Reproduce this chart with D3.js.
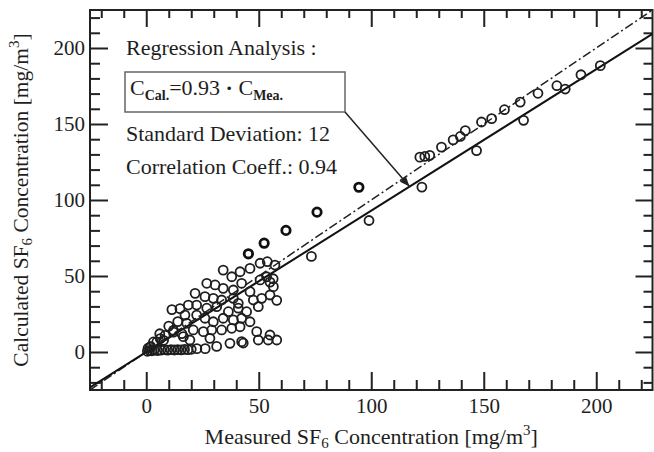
<!DOCTYPE html>
<html>
<head>
<meta charset="utf-8">
<script src="https://cdn.jsdelivr.net/npm/d3@7"></script>
<style>
  body { margin: 0; background: #fff; }
  text { font-family: "Liberation Serif", "DejaVu Serif", serif; fill: #1e1e1e; }
</style>
</head>
<body>
<div id="canvas"></div>
<script>
const width = 654;
const height = 452;

// axis ticks
const majorTicks = [0, 50, 100, 150, 200];
const minorTicks = [-20, -10, 10, 20, 30, 40, 60, 70, 80, 90, 110, 120, 130, 140, 160, 170, 180, 190, 210, 220];

// regression / reference lines
const lineX = [-25, 225];
const slopeRegression = 0.93;
const slopeIdentity = 1.0;

// measured vs calculated, bold circles (outliers)
const boldPoints = [
    [45.4, 64.6], [52.4, 71.6], [62.1, 80], [75.9, 92], [94.5, 108.4]
];

// measured vs calculated, normal circles
const points = [
    // upper branch
    [99, 86.5], [73.4, 62.9], [122.5, 108.5], [146.8, 132.5], [167.7, 152.4], [186.2, 173],
    [121.6, 128.2], [123.8, 128.7], [126, 129.4], [131.2, 134.8], [136.4, 139.6], [139.6, 141.8],
    [141.8, 145.7], [149, 151.3], [153.5, 153.5], [159.2, 159.4], [166.2, 164.4], [174.1, 170.2],
    [182.5, 175.2], [193.2, 182.4], [201.8, 188.4],
    // dense cluster
    [34.2, 53.9], [38, 49.5], [41.7, 52.8], [46.1, 55], [50.6, 58.4], [53.8, 59.4], [57.2, 57.2],
    [26.9, 45.2], [30.6, 44.1], [34.2, 41.9], [38.7, 40.8], [42.4, 45.2], [46.1, 39.7], [50.6, 47.4],
    [53.5, 49.5], [56.5, 43], [55, 46], [56.4, 48.2], [58, 34],
    [21.7, 38.6], [26.1, 36.4], [29.8, 35.3], [33.5, 34.2], [38.7, 35.3], [40.9, 32], [47.6, 34.2],
    [51.3, 35.3], [55, 37.5],
    [18.7, 30.9], [22.4, 30.9], [26.9, 28.8], [31.3, 29.8], [36.5, 26.5], [40.9, 28.8], [44.6, 26.5],
    [49.8, 29.8],
    [17.2, 24.3], [22.4, 24.3], [26.1, 22.2], [29.8, 19.9], [34.2, 22.2], [38.7, 21.1], [42.4, 22.2],
    [46.1, 19.9],
    [18, 18.9], [20.9, 14.5], [25.4, 13.4], [29.1, 14.5], [33.5, 14.5], [38, 15.6], [41.7, 16.6],
    [16.5, 10.1], [19.4, 7.9], [28.3, 9], [37.2, 5.7], [42.4, 6.8], [49.1, 13.4], [49.8, 7.9],
    [55, 11.2], [54.2, 7.9], [58, 7.9],
    [11.4, 27.9], [15, 28.5], [14, 20], [10, 17], [12.1, 14.3], [15.8, 12.1], [6.2, 8.8], [8.4, 11],
    [3.2, 6.6], [1.8, 3.3], [4.7, 6.6], [7.7, 7.7], [12.1, 13.1], [6, 12],
    [22.5, 2.2], [26.2, 2.2], [31.3, 3.7], [43.1, 5.9],
    // near-zero row
    [0.5, 0.5], [1.5, 1], [2.5, 0.8], [3.5, 1.2], [5, 1], [6.5, 1.2], [8, 1.5], [9.5, 1.2],
    [11, 1.5], [12.5, 1.3], [14, 1.6], [15.5, 1.4], [17, 1.7], [18.5, 1.5], [20, 1.8],
    [0.8, 2.5], [2, 3.5]
];

const plotLeft = 90, plotRight = 652.5, plotTop = 10, plotBottom = 390;

const x = d3.scaleLinear().domain([-25, 225]).range([plotLeft, plotRight]);
const y = d3.scaleLinear().domain([-25, 225]).range([plotBottom, plotTop]);

const svg = d3.select("#canvas")
    .append("svg")
    .attr("width", width)
    .attr("height", height)
    .style("background-color", "#fff");

const defs = svg.append("defs");
defs.append("clipPath").attr("id", "plot")
    .append("rect")
    .attr("x", plotLeft).attr("y", plotTop)
    .attr("width", plotRight - plotLeft).attr("height", plotBottom - plotTop);

defs.append("marker")
    .attr("id", "arrow")
    .attr("viewBox", "0 0 10 10")
    .attr("refX", 10).attr("refY", 5)
    .attr("markerWidth", 10).attr("markerHeight", 10)
    .attr("markerUnits", "userSpaceOnUse")
    .attr("orient", "auto")
    .append("path")
    .attr("d", "M0,1 L10,5 L0,9 Z")
    .attr("fill", "#222");

// axes: major and minor ticks pointing inwards
function styleAxis(g) {
    g.select(".domain").remove();
    g.selectAll("line").attr("stroke", "#222").attr("stroke-width", 2);
    g.selectAll("text").attr("font-size", "21px").attr("fill", "#1e1e1e")
        .attr("font-family", "Liberation Serif, serif");
}

svg.append("g").attr("transform", `translate(0,${plotBottom})`)
    .call(d3.axisBottom(x).tickValues(majorTicks).tickSize(-18).tickPadding(8))
    .call(styleAxis);
svg.append("g").attr("transform", `translate(0,${plotBottom})`)
    .call(d3.axisBottom(x).tickValues(minorTicks).tickSize(-10).tickFormat(""))
    .call(styleAxis);
svg.append("g").attr("transform", `translate(0,${plotTop})`)
    .call(d3.axisTop(x).tickValues(majorTicks).tickSize(-17).tickFormat(""))
    .call(styleAxis);
svg.append("g").attr("transform", `translate(0,${plotTop})`)
    .call(d3.axisTop(x).tickValues(minorTicks).tickSize(-8).tickFormat(""))
    .call(styleAxis);
svg.append("g").attr("transform", `translate(${plotLeft},0)`)
    .call(d3.axisLeft(y).tickValues(majorTicks).tickSize(-18).tickPadding(5))
    .call(styleAxis);
svg.append("g").attr("transform", `translate(${plotLeft},0)`)
    .call(d3.axisLeft(y).tickValues(minorTicks).tickSize(-10).tickFormat(""))
    .call(styleAxis);
svg.append("g").attr("transform", `translate(${plotRight},0)`)
    .call(d3.axisRight(y).tickValues(majorTicks).tickSize(-17).tickFormat(""))
    .call(styleAxis);
svg.append("g").attr("transform", `translate(${plotRight},0)`)
    .call(d3.axisRight(y).tickValues(minorTicks).tickSize(-9).tickFormat(""))
    .call(styleAxis);

// frame
svg.append("rect")
    .attr("x", plotLeft).attr("y", plotTop)
    .attr("width", plotRight - plotLeft).attr("height", plotBottom - plotTop)
    .attr("fill", "none").attr("stroke", "#222").attr("stroke-width", 2);

// lines
const plot = svg.append("g").attr("clip-path", "url(#plot)");
const line = d3.line().x(d => x(d[0])).y(d => y(d[1]));

plot.append("path")
    .datum(lineX.map(v => [v, v * slopeIdentity]))
    .attr("d", line)
    .attr("fill", "none").attr("stroke", "#222").attr("stroke-width", 1.5)
    .attr("stroke-dasharray", "9,3,2,3");

plot.append("path")
    .datum(lineX.map(v => [v, v * slopeRegression]))
    .attr("d", line)
    .attr("fill", "none").attr("stroke", "#111").attr("stroke-width", 2);

// points
plot.selectAll("circle.pt")
    .data(points)
    .join("circle")
    .attr("class", "pt")
    .attr("cx", d => x(d[0]))
    .attr("cy", d => y(d[1]))
    .attr("r", 4.5)
    .attr("fill", "none")
    .attr("stroke", "#1e1e1e")
    .attr("stroke-width", 1.8);

plot.selectAll("circle.bold")
    .data(boldPoints)
    .join("circle")
    .attr("class", "bold")
    .attr("cx", d => x(d[0]))
    .attr("cy", d => y(d[1]))
    .attr("r", 4.2)
    .attr("fill", "none")
    .attr("stroke", "#111")
    .attr("stroke-width", 2.8);

// annotation
svg.append("text").attr("x", 126).attr("y", 55).attr("font-size", "22px")
    .text("Regression Analysis :");

svg.append("rect")
    .attr("x", 125).attr("y", 72).attr("width", 220).attr("height", 40)
    .attr("fill", "none").attr("stroke", "#666").attr("stroke-width", 1.5);

const eq = svg.append("text").attr("x", 130).attr("y", 95).attr("font-size", "22px");
eq.append("tspan").text("C");
eq.append("tspan").attr("font-size", "14px").attr("font-weight", "bold").attr("dy", 5).text("Cal.");
eq.append("tspan").attr("dy", -5).text("=0.93 ");
eq.append("tspan").attr("font-weight", "bold").text("·");
eq.append("tspan").text(" C");
eq.append("tspan").attr("font-size", "14px").attr("font-weight", "bold").attr("dy", 5).text("Mea.");

const tipX = 117;
svg.append("line")
    .attr("x1", 345).attr("y1", 112)
    .attr("x2", x(tipX)).attr("y2", y(tipX * slopeRegression))
    .attr("stroke", "#222").attr("stroke-width", 1.5)
    .attr("marker-end", "url(#arrow)");

svg.append("text").attr("x", 126).attr("y", 141).attr("font-size", "22px")
    .text("Standard Deviation: 12");
svg.append("text").attr("x", 126).attr("y", 174).attr("font-size", "22px")
    .text("Correlation Coeff.: 0.94");

// axis titles
const xt = svg.append("text")
    .attr("x", (plotLeft + plotRight) / 2).attr("y", 444)
    .attr("text-anchor", "middle").attr("font-size", "22px");
xt.append("tspan").text("Measured SF");
xt.append("tspan").attr("font-size", "15px").attr("dy", 4).text("6");
xt.append("tspan").attr("dy", -4).text(" Concentration [mg/m");
xt.append("tspan").attr("font-size", "15px").attr("dy", -9).text("3");
xt.append("tspan").attr("dy", 9).text("]");

const yt = svg.append("text")
    .attr("transform", `translate(28,${(plotTop + plotBottom) / 2}) rotate(-90)`)
    .attr("text-anchor", "middle").attr("font-size", "21.5px");
yt.append("tspan").text("Calculated SF");
yt.append("tspan").attr("font-size", "15px").attr("dy", 4).text("6");
yt.append("tspan").attr("dy", -4).text(" Concentration [mg/m");
yt.append("tspan").attr("font-size", "15px").attr("dy", -9).text("3");
yt.append("tspan").attr("dy", 9).text("]");
</script>
</body>
</html>
